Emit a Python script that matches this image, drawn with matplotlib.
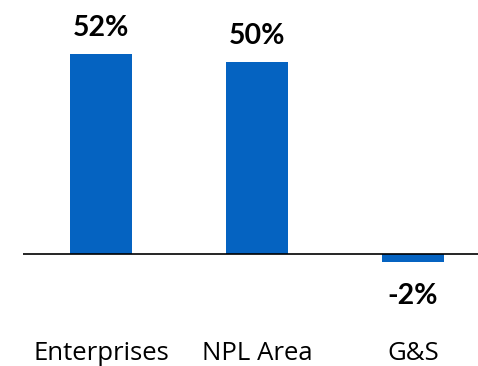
import matplotlib
matplotlib.use("Agg")
import matplotlib.pyplot as plt
import matplotlib.transforms as mtransforms

# data
categories = ["Enterprises", "NPL Area", "G&S"]
values = [52, 50, -2]
labels = ["52%", "50%", "-2%"]

bar_color = "#0563C1"

fig = plt.figure(figsize=(4.78, 3.66), dpi=100)
ax = fig.add_axes([23 / 478, 0, 455 / 478, 1])

x = list(range(len(categories)))
ax.bar(x, values, width=0.4, color=bar_color, zorder=2)
ax.axhline(0, color="black", lw=1.2, zorder=3)

ax.set_xlim(-0.5, 2.417)
ax.set_ylim(-29.12, 66.04)
ax.axis("off")

# value labels
for xi, v, lab in zip(x, values, labels):
    off = 18.5 if v >= 0 else -24.5
    ax.annotate(lab, (xi, v), xytext=(0, off), textcoords="offset points",
                ha="center", va="center", fontsize=20.5, fontweight="bold",
                family=["Lato", "DejaVu Sans"], color="black")

# category labels under the chart
trans = mtransforms.blended_transform_factory(ax.transData, ax.transAxes)
for xi, cat in zip(x, categories):
    ax.text(xi, 0.016, cat, transform=trans, ha="center", va="baseline",
            fontsize=18.5, family=["Open Sans", "DejaVu Sans"], color="black")

fig.savefig("out.png", dpi=100)
